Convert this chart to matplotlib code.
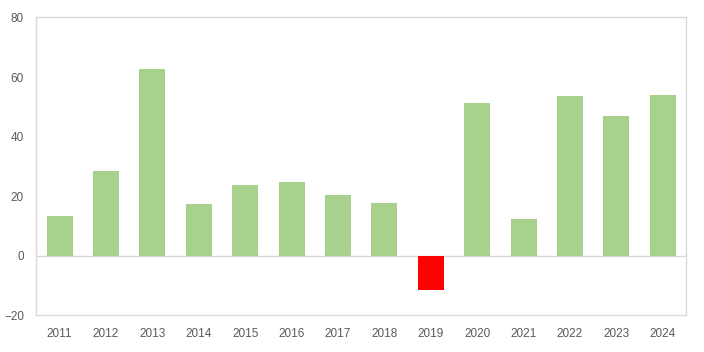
import matplotlib
matplotlib.use('Agg')
import matplotlib.pyplot as plt
import numpy as np

years = ['2011', '2012', '2013', '2014', '2015', '2016', '2017',
         '2018', '2019', '2020', '2021', '2022', '2023', '2024']
values = [13.5, 28.6, 62.6, 17.5, 23.9, 24.9, 20.5,
          17.8, -11.3, 51.2, 12.5, 53.5, 47.1, 53.9]

POS = '#a9d18e'
NEG = '#ff0000'
GRID = '#d9d9d9'
TXT = '#595959'

plt.rcParams['font.family'] = ['Liberation Sans', 'DejaVu Sans']

fig = plt.figure(figsize=(7.04, 3.52), dpi=100)
ax = fig.add_axes([0.0518, 0.1037, 0.9226, 0.8466])

x = np.arange(len(years))
colors = [POS if v >= 0 else NEG for v in values]
ax.bar(x, values, width=0.56, color=colors, zorder=2)
ax.axhline(0, color=GRID, lw=1, zorder=1)

ax.set_xlim(-0.5, len(years) - 0.5)
ax.set_ylim(-20, 80)
ax.set_yticks([-20, 0, 20, 40, 60, 80])
ax.set_xticks(x)
ax.set_xticklabels(years)
ax.tick_params(axis='both', length=0, labelsize=8.5, colors=TXT)
ax.tick_params(axis='y', pad=9)
ax.tick_params(axis='x', pad=9)
for sp in ax.spines.values():
    sp.set_edgecolor(GRID)
    sp.set_linewidth(1)

fig.savefig('out.png', dpi=100)
